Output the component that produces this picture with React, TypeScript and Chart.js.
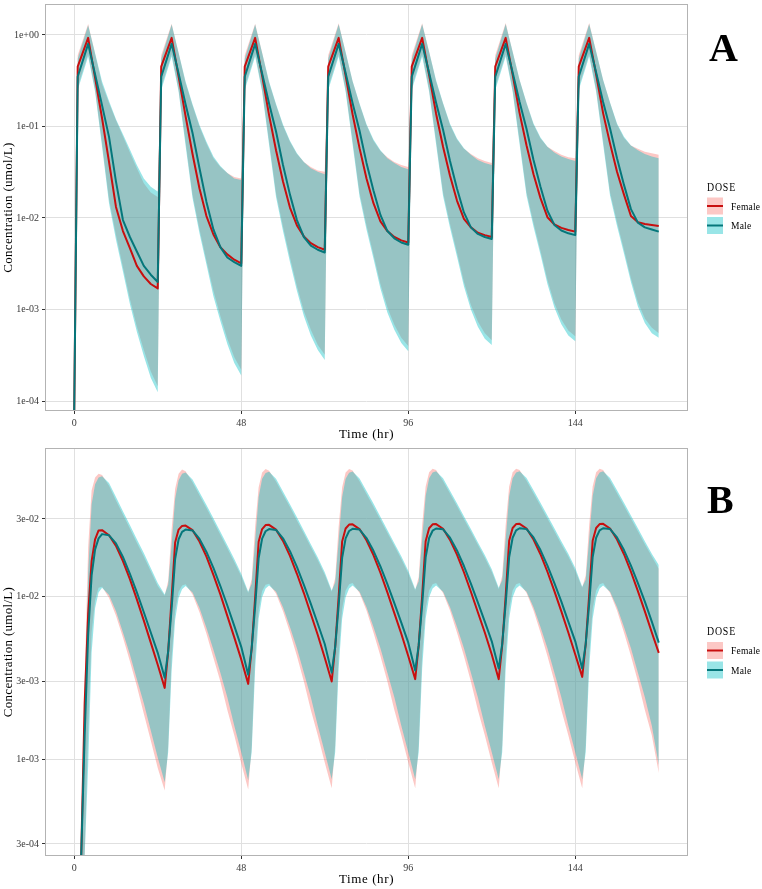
import React, { useEffect, useRef } from "react";
import { Chart, registerables } from "chart.js";

Chart.register(...registerables);

// ---------- Panel A: rapid-absorption profile, q24h dosing ----------
const TIME_A = [
  0, 1, 4, 6, 8, 10, 12, 14, 16, 18, 20, 22,
  24, 25, 28, 30, 32, 34, 36, 38, 40, 42, 44, 46,
  48, 49, 52, 54, 56, 58, 60, 62, 64, 66, 68, 70,
  72, 73, 76, 78, 80, 82, 84, 86, 88, 90, 92, 94,
  96, 97, 100, 102, 104, 106, 108, 110, 112, 114, 116, 118,
  120, 121, 124, 126, 128, 130, 132, 134, 136, 138, 140, 142,
  144, 145, 148, 150, 152, 154, 156, 158, 160, 162, 164, 166,
  168,
];

const FEMALE_MED_A = [
  7.8e-5, 0.45, 0.93, 0.34, 0.123, 0.041, 0.0132, 0.0072, 0.0047, 0.003, 0.0023, 0.0019,
  0.0017, 0.45, 0.93, 0.35, 0.13, 0.05, 0.021, 0.0105, 0.0066, 0.0048, 0.004, 0.0035,
  0.0032, 0.45, 0.93, 0.36, 0.133, 0.055, 0.025, 0.013, 0.0083, 0.0063, 0.0053, 0.0048,
  0.0045, 0.45, 0.93, 0.36, 0.136, 0.058, 0.027, 0.0145, 0.0092, 0.0072, 0.0062, 0.0057,
  0.0054, 0.45, 0.93, 0.365, 0.138, 0.06, 0.029, 0.0155, 0.0098, 0.0079, 0.0069, 0.0065,
  0.0062, 0.45, 0.93, 0.37, 0.14, 0.062, 0.03, 0.0165, 0.0102, 0.0085, 0.0078, 0.0074,
  0.0071, 0.45, 0.93, 0.37, 0.14, 0.065, 0.032, 0.018, 0.0105, 0.009, 0.0086, 0.0084,
  0.0082,
];

const MALE_MED_A = [
  7.8e-5, 0.35, 0.8, 0.37, 0.17, 0.077, 0.025, 0.0095, 0.0062, 0.0043, 0.003, 0.0024,
  0.002, 0.35, 0.8, 0.38, 0.175, 0.085, 0.035, 0.015, 0.0075, 0.0048, 0.0037, 0.0033,
  0.003, 0.35, 0.8, 0.38, 0.178, 0.088, 0.038, 0.018, 0.0095, 0.0062, 0.005, 0.0045,
  0.0042, 0.35, 0.8, 0.385, 0.18, 0.09, 0.04, 0.02, 0.0108, 0.0072, 0.006, 0.0054,
  0.0051, 0.35, 0.8, 0.385, 0.182, 0.092, 0.042, 0.021, 0.0115, 0.0079, 0.0067, 0.0062,
  0.0059, 0.35, 0.8, 0.39, 0.185, 0.094, 0.043, 0.022, 0.012, 0.0084, 0.0073, 0.0068,
  0.0065, 0.35, 0.8, 0.39, 0.185, 0.095, 0.045, 0.023, 0.0125, 0.0089, 0.0079, 0.0075,
  0.0071,
];

const FEMALE_HI_A = [
  7.8e-5, 0.6, 1.32, 0.62, 0.29, 0.18, 0.117, 0.078, 0.052, 0.035, 0.024, 0.019,
  0.017, 0.6, 1.33, 0.63, 0.3, 0.17, 0.1, 0.065, 0.045, 0.036, 0.031, 0.028,
  0.027, 0.6, 1.33, 0.64, 0.3, 0.172, 0.102, 0.068, 0.05, 0.041, 0.036, 0.033,
  0.032, 0.6, 1.34, 0.64, 0.31, 0.175, 0.103, 0.07, 0.054, 0.046, 0.041, 0.038,
  0.036, 0.6, 1.34, 0.65, 0.31, 0.177, 0.104, 0.072, 0.057, 0.05, 0.045, 0.042,
  0.04, 0.6, 1.35, 0.65, 0.32, 0.178, 0.105, 0.074, 0.06, 0.054, 0.049, 0.046,
  0.045, 0.6, 1.35, 0.65, 0.32, 0.18, 0.105, 0.075, 0.062, 0.057, 0.053, 0.051,
  0.049,
];

const MALE_HI_A = [
  7.8e-5, 0.55, 1.28, 0.63, 0.31, 0.19, 0.12, 0.082, 0.056, 0.038, 0.027, 0.022,
  0.0195, 0.55, 1.3, 0.64, 0.31, 0.175, 0.104, 0.068, 0.047, 0.037, 0.031, 0.027,
  0.026, 0.55, 1.3, 0.64, 0.31, 0.176, 0.105, 0.07, 0.051, 0.041, 0.035, 0.032,
  0.03, 0.55, 1.31, 0.65, 0.315, 0.178, 0.106, 0.072, 0.055, 0.045, 0.04, 0.036,
  0.034, 0.55, 1.31, 0.655, 0.32, 0.18, 0.107, 0.074, 0.058, 0.049, 0.043, 0.04,
  0.038, 0.55, 1.32, 0.66, 0.325, 0.182, 0.108, 0.076, 0.06, 0.052, 0.047, 0.044,
  0.042, 0.55, 1.32, 0.66, 0.325, 0.183, 0.108, 0.077, 0.062, 0.055, 0.05, 0.047,
  0.045,
];

const FEMALE_LO_A = [
  7.8e-5, 0.27, 0.62, 0.25, 0.065, 0.016, 0.0065, 0.0029, 0.0013, 0.00065, 0.00036, 0.00021,
  0.000145, 0.27, 0.62, 0.25, 0.068, 0.018, 0.0075, 0.0034, 0.0016, 0.00085, 0.00048, 0.0003,
  0.00022, 0.27, 0.62, 0.25, 0.069, 0.0185, 0.008, 0.0037, 0.0018, 0.00096, 0.0006, 0.00041,
  0.00032, 0.27, 0.62, 0.25, 0.07, 0.0188, 0.0083, 0.004, 0.0019, 0.00105, 0.00068, 0.00049,
  0.0004, 0.27, 0.62, 0.25, 0.07, 0.019, 0.0086, 0.0042, 0.002, 0.00112, 0.00074, 0.00055,
  0.00046, 0.27, 0.62, 0.25, 0.07, 0.019, 0.0088, 0.0044, 0.0021, 0.00117, 0.00078, 0.00059,
  0.00051, 0.27, 0.62, 0.25, 0.07, 0.019, 0.009, 0.0045, 0.0022, 0.0012, 0.0008, 0.00063,
  0.00055,
];

const MALE_LO_A = [
  7.8e-5, 0.25, 0.58, 0.24, 0.06, 0.0145, 0.0058, 0.0026, 0.00115, 0.00057, 0.00031, 0.00018,
  0.000125, 0.25, 0.58, 0.24, 0.062, 0.0165, 0.0068, 0.0031, 0.0014, 0.00075, 0.00042, 0.00026,
  0.00019, 0.25, 0.58, 0.24, 0.063, 0.017, 0.0072, 0.0033, 0.0016, 0.00085, 0.00052, 0.00036,
  0.00028, 0.25, 0.58, 0.24, 0.064, 0.0172, 0.0075, 0.0036, 0.0017, 0.00093, 0.0006, 0.00043,
  0.00035, 0.25, 0.58, 0.24, 0.064, 0.0174, 0.0078, 0.0038, 0.0018, 0.001, 0.00065, 0.00048,
  0.00041, 0.25, 0.58, 0.24, 0.064, 0.0175, 0.008, 0.004, 0.0019, 0.00105, 0.00069, 0.00052,
  0.00045, 0.25, 0.58, 0.24, 0.064, 0.0175, 0.0082, 0.0041, 0.002, 0.00108, 0.00071, 0.00055,
  0.00049,
];

// ---------- Panel B: slow-absorption profile, q24h dosing ----------
const TIME_B = [
  0, 2, 3, 4, 5, 6, 7, 8, 10, 12, 14, 16, 18, 20, 22,
  24, 26, 27, 28, 29, 30, 31, 32, 34, 36, 38, 40, 42, 44, 46,
  48, 50, 51, 52, 53, 54, 55, 56, 58, 60, 62, 64, 66, 68, 70,
  72, 74, 75, 76, 77, 78, 79, 80, 82, 84, 86, 88, 90, 92, 94,
  96, 98, 99, 100, 101, 102, 103, 104, 106, 108, 110, 112, 114, 116, 118,
  120, 122, 123, 124, 125, 126, 127, 128, 130, 132, 134, 136, 138, 140, 142,
  144, 146, 147, 148, 149, 150, 151, 152, 154, 156, 158, 160, 162, 164, 166,
  168,
];

const FEMALE_MED_B = [
  2.53e-4, 2.53e-4, 0.0022, 0.0078, 0.0165, 0.0225, 0.0255, 0.0256, 0.0238, 0.0205, 0.0165, 0.0128, 0.0096, 0.0071, 0.0052,
  0.0038, 0.00274, 0.0046, 0.0098, 0.0215, 0.0258, 0.0272, 0.0273, 0.0256, 0.0218, 0.0176, 0.0136, 0.0103, 0.0076, 0.0056,
  0.0041, 0.0029, 0.0048, 0.0099, 0.0217, 0.026, 0.0275, 0.0276, 0.0258, 0.022, 0.0178, 0.0138, 0.0105, 0.0078, 0.0058,
  0.0042, 0.003, 0.0049, 0.01, 0.0218, 0.0262, 0.0277, 0.0278, 0.026, 0.0222, 0.018, 0.014, 0.0106, 0.0079, 0.0059,
  0.0043, 0.0031, 0.005, 0.0101, 0.0219, 0.0263, 0.0278, 0.0279, 0.0261, 0.0223, 0.0181, 0.0141, 0.0107, 0.008, 0.006,
  0.0044, 0.0031, 0.005, 0.0101, 0.022, 0.0264, 0.0279, 0.028, 0.0262, 0.0224, 0.0182, 0.0142, 0.0108, 0.0081, 0.006,
  0.0044, 0.0032, 0.0051, 0.0102, 0.022, 0.0264, 0.0279, 0.028, 0.0262, 0.0224, 0.0182, 0.0142, 0.0108, 0.0081, 0.006,
  0.0045,
];

const MALE_MED_B = [
  2.53e-4, 2.53e-4, 0.0014, 0.0058, 0.0135, 0.0195, 0.0228, 0.0242, 0.0238, 0.0212, 0.0175, 0.0138, 0.0106, 0.008, 0.006,
  0.0045, 0.00316, 0.0046, 0.0085, 0.017, 0.0225, 0.025, 0.0258, 0.0255, 0.0226, 0.0188, 0.015, 0.0116, 0.0088, 0.0066,
  0.0049, 0.0033, 0.0048, 0.0087, 0.0172, 0.0227, 0.0252, 0.026, 0.0257, 0.0228, 0.019, 0.0152, 0.0118, 0.009, 0.0068,
  0.0051, 0.0034, 0.0049, 0.0088, 0.0173, 0.0228, 0.0253, 0.0261, 0.0258, 0.0229, 0.0191, 0.0153, 0.0119, 0.0091, 0.0069,
  0.0052, 0.0035, 0.005, 0.0089, 0.0174, 0.0229, 0.0254, 0.0262, 0.0259, 0.023, 0.0192, 0.0154, 0.012, 0.0092, 0.007,
  0.0053, 0.0036, 0.0051, 0.009, 0.0175, 0.023, 0.0255, 0.0263, 0.026, 0.0231, 0.0193, 0.0155, 0.0121, 0.0093, 0.007,
  0.0053, 0.0036, 0.0051, 0.009, 0.0175, 0.023, 0.0255, 0.0263, 0.026, 0.0231, 0.0193, 0.0155, 0.0121, 0.0093, 0.007,
  0.0052,
];

const FEMALE_HI_B = [
  2.53e-4, 2.53e-4, 0.003, 0.02, 0.045, 0.054, 0.057, 0.056, 0.048, 0.039, 0.032, 0.0262, 0.0214, 0.0176, 0.0143,
  0.0116, 0.0101, 0.0125, 0.026, 0.046, 0.057, 0.0605, 0.059, 0.0505, 0.042, 0.035, 0.029, 0.024, 0.0198, 0.0163,
  0.0133, 0.0105, 0.0128, 0.027, 0.047, 0.058, 0.061, 0.0595, 0.051, 0.0425, 0.0355, 0.0294, 0.0244, 0.0202, 0.0167,
  0.0136, 0.0107, 0.013, 0.027, 0.047, 0.058, 0.061, 0.0597, 0.0512, 0.0428, 0.0357, 0.0297, 0.0247, 0.0205, 0.017,
  0.0139, 0.0109, 0.0132, 0.0275, 0.0475, 0.0582, 0.0612, 0.06, 0.0514, 0.043, 0.036, 0.03, 0.025, 0.0208, 0.0173,
  0.0142, 0.0111, 0.0134, 0.0275, 0.0475, 0.0582, 0.0612, 0.06, 0.0515, 0.0432, 0.0362, 0.0302, 0.0252, 0.021, 0.0176,
  0.0144, 0.0113, 0.0135, 0.0275, 0.0475, 0.0582, 0.0612, 0.06, 0.0515, 0.0432, 0.0362, 0.0302, 0.0252, 0.021, 0.0176,
  0.0148,
];

const MALE_HI_B = [
  2.53e-4, 2.53e-4, 0.0018, 0.014, 0.037, 0.049, 0.054, 0.055, 0.05, 0.041, 0.0335, 0.0275, 0.0225, 0.0185, 0.015,
  0.0121, 0.0103, 0.0118, 0.021, 0.04, 0.052, 0.057, 0.058, 0.0525, 0.0438, 0.0365, 0.0303, 0.025, 0.0207, 0.017,
  0.0138, 0.0107, 0.012, 0.022, 0.041, 0.053, 0.0575, 0.0585, 0.053, 0.0443, 0.037, 0.0307, 0.0254, 0.021, 0.0174,
  0.0141, 0.0109, 0.0122, 0.022, 0.041, 0.053, 0.0578, 0.0588, 0.0533, 0.0446, 0.0373, 0.031, 0.0257, 0.0213, 0.0177,
  0.0144, 0.0111, 0.0124, 0.0225, 0.0415, 0.0535, 0.058, 0.059, 0.0535, 0.0448, 0.0375, 0.0312, 0.026, 0.0216, 0.018,
  0.0147, 0.0113, 0.0126, 0.0225, 0.0415, 0.0535, 0.058, 0.059, 0.0536, 0.045, 0.0377, 0.0315, 0.0263, 0.0219, 0.0183,
  0.015, 0.0115, 0.0127, 0.0225, 0.0415, 0.0535, 0.058, 0.059, 0.0536, 0.045, 0.0377, 0.0315, 0.0263, 0.0219, 0.0183,
  0.0156,
];

const FEMALE_LO_B = [
  2.53e-4, 2.53e-4, 2.53e-4, 0.0015, 0.006, 0.0095, 0.0113, 0.0115, 0.0098, 0.0076, 0.0056, 0.004, 0.0028, 0.0019, 0.0013,
  0.00088, 0.00064, 0.0012, 0.0042, 0.0082, 0.0107, 0.0117, 0.0119, 0.0103, 0.008, 0.0059, 0.0042, 0.003, 0.002, 0.0014,
  0.00094, 0.00065, 0.0012, 0.0043, 0.0083, 0.0108, 0.0118, 0.012, 0.0104, 0.0081, 0.006, 0.0043, 0.003, 0.002, 0.0014,
  0.00095, 0.00066, 0.00122, 0.0044, 0.0084, 0.0109, 0.0119, 0.0121, 0.0105, 0.0082, 0.006, 0.0043, 0.003, 0.002, 0.0014,
  0.00095, 0.00066, 0.00122, 0.0044, 0.0084, 0.0109, 0.0119, 0.0121, 0.0105, 0.0082, 0.006, 0.0043, 0.003, 0.002, 0.0014,
  0.00095, 0.00066, 0.00122, 0.0044, 0.0084, 0.0109, 0.0119, 0.0121, 0.0105, 0.0082, 0.006, 0.0043, 0.003, 0.002, 0.0014,
  0.00095, 0.00066, 0.00122, 0.0044, 0.0084, 0.0109, 0.0119, 0.0121, 0.0105, 0.0082, 0.006, 0.0043, 0.003, 0.002, 0.0014,
  0.00082,
];

const MALE_LO_B = [
  2.53e-4, 2.53e-4, 2.53e-4, 0.0009, 0.0045, 0.0085, 0.0106, 0.0113, 0.0102, 0.0081, 0.006, 0.0044, 0.0031, 0.0022, 0.0015,
  0.00102, 0.00072, 0.0011, 0.0035, 0.0072, 0.0098, 0.0111, 0.0116, 0.0106, 0.0085, 0.0064, 0.0047, 0.0034, 0.0024, 0.0016,
  0.0011, 0.00074, 0.0011, 0.0036, 0.0073, 0.0099, 0.0112, 0.0117, 0.0107, 0.0086, 0.0065, 0.0048, 0.0034, 0.0024, 0.0016,
  0.0011, 0.00075, 0.0011, 0.0036, 0.0073, 0.0099, 0.0112, 0.0117, 0.0107, 0.0086, 0.0065, 0.0048, 0.0034, 0.0024, 0.0016,
  0.0011, 0.00075, 0.0011, 0.0036, 0.0073, 0.0099, 0.0112, 0.0117, 0.0107, 0.0086, 0.0065, 0.0048, 0.0034, 0.0024, 0.0016,
  0.0011, 0.00075, 0.0011, 0.0036, 0.0073, 0.0099, 0.0112, 0.0117, 0.0107, 0.0086, 0.0065, 0.0048, 0.0034, 0.0024, 0.0016,
  0.0011, 0.00075, 0.0011, 0.0036, 0.0073, 0.0099, 0.0112, 0.0117, 0.0107, 0.0086, 0.0065, 0.0048, 0.0034, 0.0024, 0.0016,
  0.00092,
];

// ---------- axes, labels ----------
const X_TICKS = [0, 48, 96, 144];
const Y_TICKS_A = [1e-4, 1e-3, 1e-2, 1e-1, 1];
const Y_LABELS_A = ["1e-04", "1e-03", "1e-02", "1e-01", "1e+00"];
const Y_TICKS_B = [3e-4, 1e-3, 3e-3, 1e-2, 3e-2];
const Y_LABELS_B = ["3e-04", "1e-03", "3e-03", "1e-02", "3e-02"];
const GROUPS = ["Female", "Male"];
const X_TITLE = "Time (hr)";
const Y_TITLE = "Concentration (umol/L)";
const LEGEND_TITLE = "DOSE";

const LINE_COLORS = ["#C80F0F", "#05777B"];
const BAND_COLORS = ["rgba(248,118,109,0.4)", "rgba(0,191,196,0.4)"];
const SERIF = '"Liberation Serif", "Times New Roman", serif';

const WIDTH = 762;
const X_MIN = -8.4;
const X_MAX = 176.4;
const Y_AXIS_W = 45;
const RIGHT_PAD = 74;

type Panel = {
  letter: string;
  height: number;
  padTop: number;
  xAxisH: number;
  letterX: number;
  letterY: number;
  yMin: number;
  yMax: number;
  yTicks: number[];
  yLabels: string[];
  time: number[];
  med: number[][];
  lo: number[][];
  hi: number[][];
};

const PANEL_A: Panel = {
  letter: "A",
  height: 445,
  padTop: 4,
  xAxisH: 34,
  letterX: 709,
  letterY: 61,
  yMin: 7.78e-5,
  yMax: 2.18,
  yTicks: Y_TICKS_A,
  yLabels: Y_LABELS_A,
  time: TIME_A,
  med: [FEMALE_MED_A, MALE_MED_A],
  lo: [FEMALE_LO_A, MALE_LO_A],
  hi: [FEMALE_HI_A, MALE_HI_A],
};

const PANEL_B: Panel = {
  letter: "B",
  height: 444,
  padTop: 3,
  xAxisH: 33,
  letterX: 707,
  letterY: 68,
  yMin: 2.53e-4,
  yMax: 0.082,
  yTicks: Y_TICKS_B,
  yLabels: Y_LABELS_B,
  time: TIME_B,
  med: [FEMALE_MED_B, MALE_MED_B],
  lo: [FEMALE_LO_B, MALE_LO_B],
  hi: [FEMALE_HI_B, MALE_HI_B],
};

// Frame, axis titles, legend and panel letter drawn on top of the plot
function decorPlugin(p: Panel) {
  return {
    id: "decor" + p.letter,
    afterDraw(chart: any) {
      const { ctx, chartArea: a } = chart;
      ctx.save();
      ctx.strokeStyle = "#B3B3B3";
      ctx.lineWidth = 1;
      ctx.strokeRect(
        Math.round(a.left) + 0.5,
        Math.round(a.top) + 0.5,
        Math.round(a.right - a.left) - 1,
        Math.round(a.bottom - a.top) - 1
      );

      ctx.fillStyle = "#000";
      ctx.textAlign = "center";
      ctx.textBaseline = "middle";
      ctx.font = `13px ${SERIF}`;
      (ctx as any).letterSpacing = "0.6px";
      ctx.fillText(X_TITLE, (a.left + a.right) / 2, a.bottom + 24);

      ctx.save();
      ctx.translate(9, (a.top + a.bottom) / 2);
      ctx.rotate(-Math.PI / 2);
      (ctx as any).letterSpacing = "0.3px";
      ctx.fillText(Y_TITLE, 0, 0);
      ctx.restore();

      // legend
      const cy = (a.top + a.bottom) / 2;
      const kx = 707;
      ctx.textAlign = "left";
      ctx.save();
      ctx.translate(kx, cy - 20);
      ctx.scale(0.82, 1);
      (ctx as any).letterSpacing = "1px";
      ctx.font = `12px ${SERIF}`;
      ctx.fillText(LEGEND_TITLE, 0, 0);
      ctx.restore();

      GROUPS.forEach((g, i) => {
        const ry = cy - 1.5 + i * 19.5;
        ctx.fillStyle = "#fff";
        ctx.fillRect(kx, ry - 8.5, 16, 17);
        ctx.fillStyle = BAND_COLORS[i];
        ctx.fillRect(kx, ry - 8.5, 16, 17);
        ctx.strokeStyle = LINE_COLORS[i];
        ctx.lineWidth = 2;
        ctx.beginPath();
        ctx.moveTo(kx, ry);
        ctx.lineTo(kx + 16, ry);
        ctx.stroke();
        ctx.fillStyle = "#000";
        ctx.font = `9.5px ${SERIF}`;
        (ctx as any).letterSpacing = "0.2px";
        ctx.fillText(g, kx + 24, ry + 1);
      });

      // panel letter
      (ctx as any).letterSpacing = "0px";
      ctx.textBaseline = "alphabetic";
      ctx.font = `bold 40px ${SERIF}`;
      ctx.fillText(p.letter, p.letterX, p.letterY);
      ctx.restore();
    },
  };
}

function buildConfig(p: Panel): any {
  const pts = (v: number[]) => p.time.map((x, i) => ({ x, y: v[i] }));
  const datasets: any[] = [];
  GROUPS.forEach((g, i) => {
    datasets.push({
      label: g + " lower",
      data: pts(p.lo[i]),
      order: 6 - i * 2,
      borderColor: "rgba(0,0,0,0)",
      borderWidth: 1,
      pointRadius: 0,
      tension: 0,
      fill: false,
    });
    datasets.push({
      label: g + " upper",
      data: pts(p.hi[i]),
      order: 5 - i * 2,
      borderColor: "rgba(0,0,0,0)",
      borderWidth: 1,
      backgroundColor: BAND_COLORS[i],
      pointRadius: 0,
      tension: 0,
      fill: "-1",
    });
  });
  GROUPS.forEach((g, i) => {
    datasets.push({
      label: g,
      data: pts(p.med[i]),
      order: 2 - i,
      borderColor: LINE_COLORS[i],
      borderWidth: 2,
      borderJoinStyle: "round",
      pointRadius: 0,
      tension: 0,
      fill: false,
    });
  });

  const tickFont = { family: SERIF, size: 10 };
  return {
    type: "line",
    data: { datasets },
    options: {
      responsive: false,
      animation: false,
      devicePixelRatio: 1,
      events: [],
      layout: { padding: { top: p.padTop, left: 0, right: RIGHT_PAD, bottom: 0 } },
      plugins: { legend: { display: false }, tooltip: { enabled: false } },
      scales: {
        x: {
          type: "linear",
          bounds: "data",
          min: X_MIN,
          max: X_MAX,
          afterBuildTicks: (s: any) => {
            s.ticks = X_TICKS.map((value) => ({ value }));
          },
          afterFit: (s: any) => {
            s.height = p.xAxisH;
            s.paddingLeft = 0;
            s.paddingRight = 0;
          },
          ticks: {
            autoSkip: false,
            maxRotation: 0,
            padding: 3,
            color: "#3A3A3A",
            font: tickFont,
            callback: (v: number) => String(v),
          },
          grid: { color: "#E0E0E0", lineWidth: 1, tickLength: 3, tickColor: "#333333" },
          border: { display: false },
        },
        y: {
          type: "logarithmic",
          bounds: "data",
          min: p.yMin,
          max: p.yMax,
          afterBuildTicks: (s: any) => {
            s.ticks = p.yTicks.map((value) => ({ value }));
          },
          afterFit: (s: any) => {
            s.width = Y_AXIS_W;
            s.paddingTop = 0;
            s.paddingBottom = 0;
          },
          ticks: {
            autoSkip: false,
            padding: 3,
            color: "#3A3A3A",
            font: tickFont,
            callback: (v: number) => {
              const i = p.yTicks.findIndex((t) => Math.abs(t - v) / t < 1e-6);
              return i >= 0 ? p.yLabels[i] : "";
            },
          },
          grid: { color: "#E0E0E0", lineWidth: 1, tickLength: 3, tickColor: "#333333" },
          border: { display: false },
        },
      },
    },
    plugins: [decorPlugin(p)],
  };
}

function PanelChart({ panel, top }: { panel: Panel; top: number }) {
  const ref = useRef<HTMLCanvasElement | null>(null);
  useEffect(() => {
    if (!ref.current) return;
    const chart = new Chart(ref.current, buildConfig(panel));
    return () => chart.destroy();
  }, [panel]);
  return (
    <canvas
      ref={ref}
      width={WIDTH}
      height={panel.height}
      style={{ position: "absolute", left: 0, top, width: WIDTH, height: panel.height, display: "block" }}
    />
  );
}

export default function App() {
  return (
    <div style={{ position: "absolute", left: 0, top: 0, width: WIDTH, height: 889, background: "#fff" }}>
      <PanelChart panel={PANEL_A} top={0} />
      <PanelChart panel={PANEL_B} top={445} />
    </div>
  );
}
